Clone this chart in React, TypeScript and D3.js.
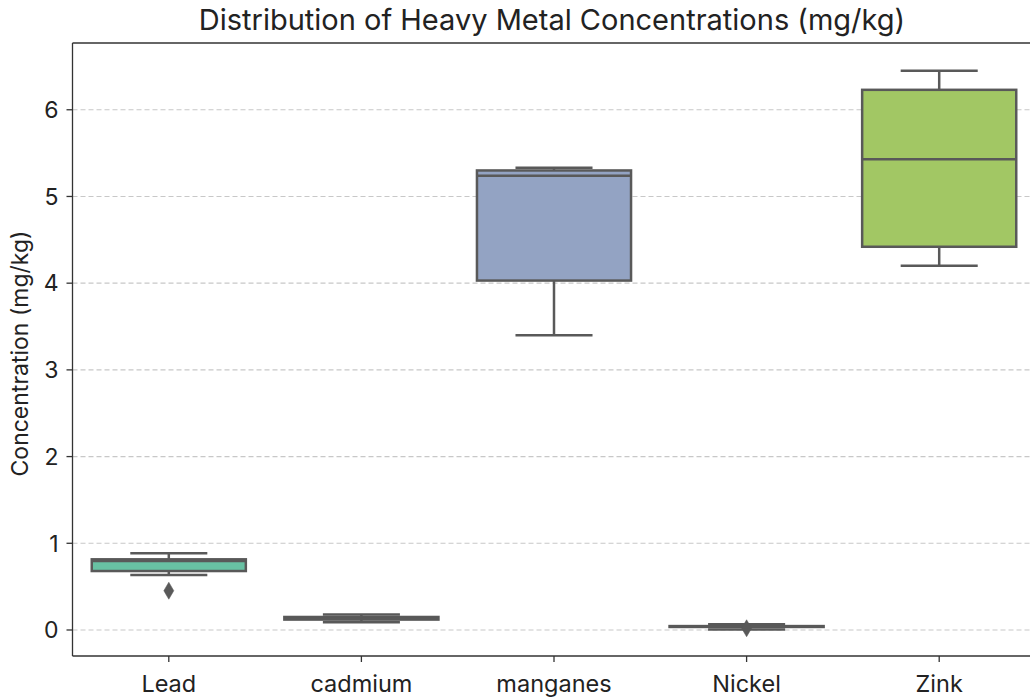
import React from "react";
import * as d3 from "d3";

const categories = ["Lead", "cadmium", "manganes", "Nickel", "Zink"];
const whiskerLow = [0.635, 0.09, 3.4, 0.005, 4.2];
const q1 = [0.68, 0.12, 4.03, 0.035, 4.42];
const median = [0.795, 0.13, 5.24, 0.04, 5.43];
const q3 = [0.815, 0.15, 5.3, 0.045, 6.23];
const whiskerHigh = [0.885, 0.18, 5.33, 0.065, 6.45];
const outliers: number[][] = [[0.453], [], [], [0.02], []];
const colors = ["#68c1a3", "#f0a07f", "#93a3c3", "#d79bbf", "#a2c764"];
const yTicks = [0, 1, 2, 3, 4, 5, 6];

const W = 1030;
const H = 698;
const left = 72.5;
const right = 1035.5;
const top = 43;
const bottom = 656;
const font = "Inter, Roboto, 'DejaVu Sans', sans-serif";
const lineColor = "#595959";

export default function App() {
  const x = d3.scaleBand<string>().domain(categories).range([left, right]).padding(0);
  const y = d3.scaleLinear().domain([-0.3, 6.77]).range([bottom, top]);
  const bw = x.bandwidth() * 0.8;
  const cw = bw / 2;
  const diamond = (cx: number, cy: number) =>
    `M${cx},${cy - 8.5}L${cx + 5},${cy}L${cx},${cy + 8.5}L${cx - 5},${cy}Z`;

  return (
    <svg
      width={W}
      height={H}
      style={{ position: "absolute", left: 0, top: 0, background: "#fff" }}
    >
      <rect x={0} y={0} width={W} height={H} fill="#fff" />
      {yTicks.map((t) => (
        <line
          key={"g" + t}
          x1={left}
          x2={right}
          y1={y(t)}
          y2={y(t)}
          stroke="#c8c8c8"
          strokeWidth={1.1}
          strokeDasharray="5,3"
        />
      ))}
      {categories.map((c, i) => {
        const cx = (x(c) as number) + x.bandwidth() / 2;
        return (
          <g key={c}>
            <line x1={cx} x2={cx} y1={y(q1[i])} y2={y(whiskerLow[i])} stroke={lineColor} strokeWidth={2.5} />
            <line x1={cx} x2={cx} y1={y(q3[i])} y2={y(whiskerHigh[i])} stroke={lineColor} strokeWidth={2.5} />
            <line x1={cx - cw / 2} x2={cx + cw / 2} y1={y(whiskerLow[i])} y2={y(whiskerLow[i])} stroke={lineColor} strokeWidth={2.5} />
            <line x1={cx - cw / 2} x2={cx + cw / 2} y1={y(whiskerHigh[i])} y2={y(whiskerHigh[i])} stroke={lineColor} strokeWidth={2.5} />
            <rect
              x={cx - bw / 2}
              y={y(q3[i])}
              width={bw}
              height={Math.max(0.5, y(q1[i]) - y(q3[i]))}
              fill={colors[i]}
              stroke={lineColor}
              strokeWidth={2.5}
            />
            <line x1={cx - bw / 2} x2={cx + bw / 2} y1={y(median[i])} y2={y(median[i])} stroke={lineColor} strokeWidth={2.5} />
            {outliers[i].map((o, k) => (
              <path key={k} d={diamond(cx, y(o))} fill={lineColor} stroke={lineColor} strokeWidth={0.5} />
            ))}
          </g>
        );
      })}
      <line x1={left} x2={left} y1={top} y2={bottom} stroke="#333" strokeWidth={1.3} />
      <line x1={left} x2={right} y1={top} y2={top} stroke="#333" strokeWidth={1.3} />
      <line x1={left} x2={right} y1={bottom} y2={bottom} stroke="#333" strokeWidth={1.3} />
      {yTicks.map((t) => (
        <g key={"t" + t}>
          <line x1={left - 6} x2={left} y1={y(t)} y2={y(t)} stroke="#333" strokeWidth={1.3} />
          <text x={left - 14} y={y(t)} dy="0.36em" textAnchor="end" fontSize={23} fontFamily={font} fill="#222">
            {t}
          </text>
        </g>
      ))}
      {categories.map((c) => {
        const cx = (x(c) as number) + x.bandwidth() / 2;
        return (
          <g key={"x" + c}>
            <line x1={cx} x2={cx} y1={bottom} y2={bottom + 6} stroke="#333" strokeWidth={1.3} />
            <text x={cx} y={692} textAnchor="middle" fontSize={23.5} fontFamily={font} fill="#222">
              {c}
            </text>
          </g>
        );
      })}
      <text
        transform={`translate(28,${(top + bottom) / 2 + 4}) rotate(-90)`}
        textAnchor="middle"
        fontSize={23}
        fontFamily={font}
        fill="#222"
      >
        Concentration (mg/kg)
      </text>
      <text x={(left + right) / 2 - 2} y={30} textAnchor="middle" fontSize={29} fontFamily={font} fill="#222">
        Distribution of Heavy Metal Concentrations (mg/kg)
      </text>
    </svg>
  );
}
